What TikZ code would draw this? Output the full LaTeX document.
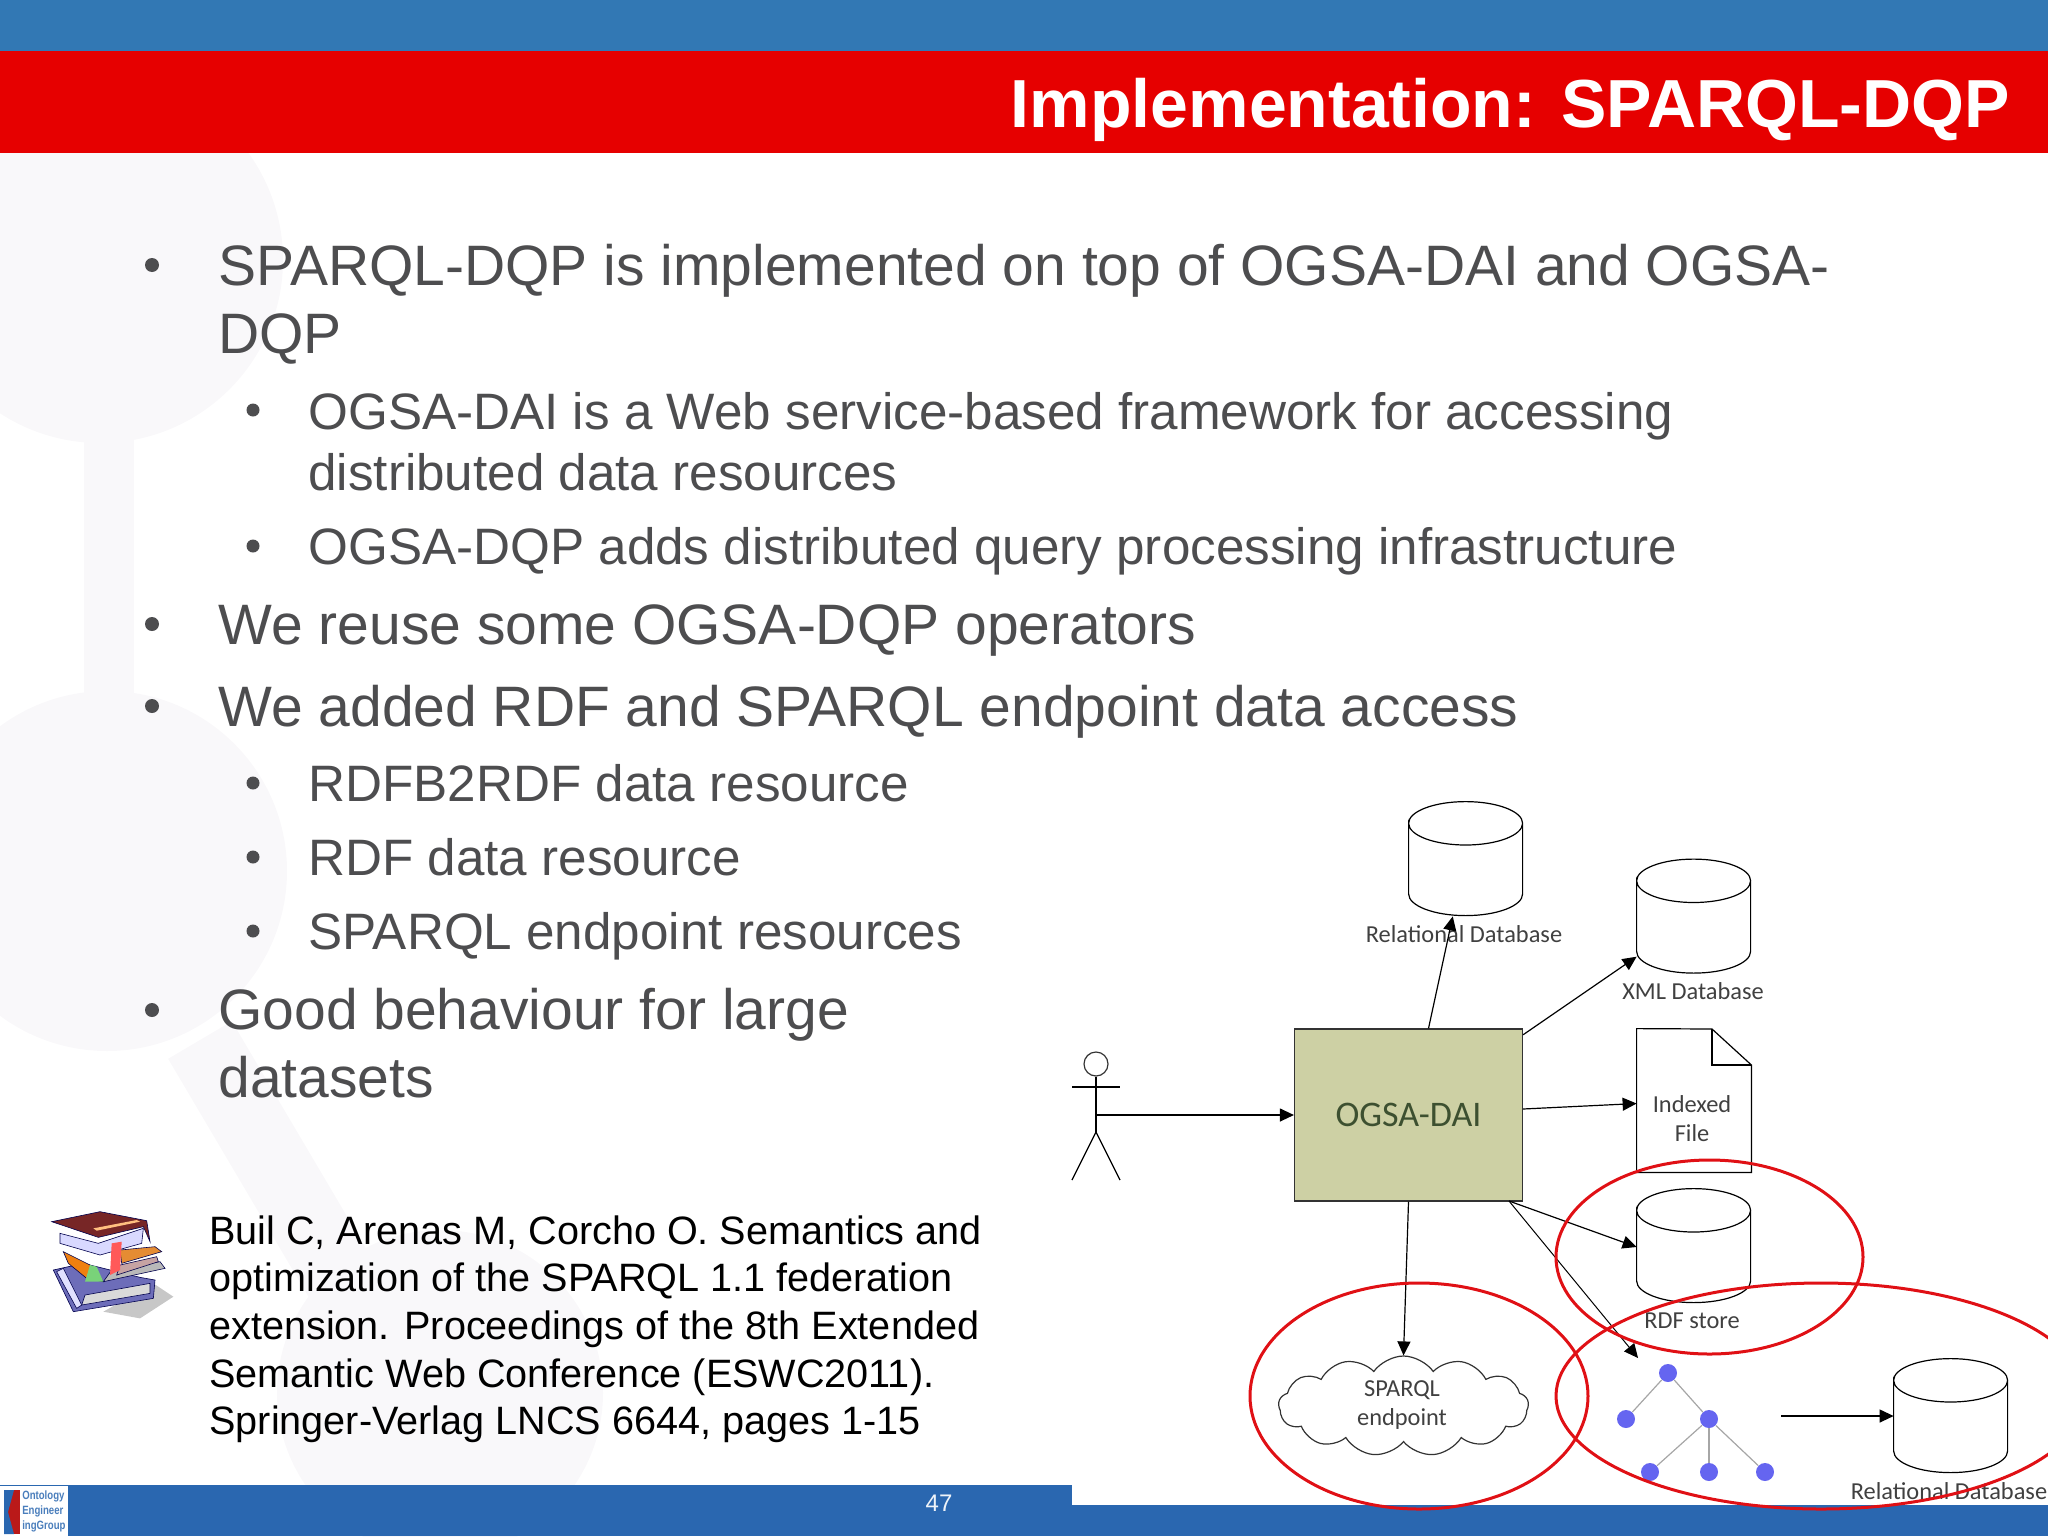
\documentclass[tikz,border=0pt]{standalone}
\usepackage{fontspec}
\setmainfont{Liberation Sans}
\newfontfamily\diagfont{Carlito}
\usetikzlibrary{arrows.meta,shapes.geometric,shapes.symbols}

\definecolor{topblue}{HTML}{3278B4}
\definecolor{titlered}{HTML}{E60000}
\definecolor{barblue}{HTML}{2A67B0}
\definecolor{bodygrey}{HTML}{4D4D4F}
\definecolor{markpale}{HTML}{F9F8FA}
\definecolor{boxolive}{HTML}{CDD0A4}
\definecolor{boxtext}{HTML}{3D5030}
\definecolor{ringred}{HTML}{E01015}
\definecolor{treeblue}{HTML}{6565F0}

\tikzset{
	lvlone/.style={anchor=base west, inner sep=0pt, text=bodygrey, font=\fontsize{28.5}{28.5}\selectfont},
	lvltwo/.style={anchor=base west, inner sep=0pt, text=bodygrey, font=\fontsize{25.6}{25.6}\selectfont},
	refline/.style={anchor=base west, inner sep=0pt, text=black, font=\fontsize{19.8}{19.8}\selectfont},
	bulletdot/.style={circle, fill=bodygrey, inner sep=0pt, minimum size=7pt},
	dbcyl/.style={inner sep=0pt, minimum width=57pt, minimum height=57pt},
	dbline/.style={draw=black, line width=0.6pt},
	dblabel/.style={inner sep=0pt, align=center, text=black!75, font=\diagfont\fontsize{12.2}{14.5}\selectfont},
	link/.style={draw=black, line width=0.6pt, -{Triangle[length=7pt,width=6.5pt]}},
	treedot/.style={circle, fill=treeblue, inner sep=0pt, minimum size=9pt},
	treeedge/.style={draw=black!35, line width=0.6pt},
	ringmark/.style={ellipse, draw=ringred, line width=1.5pt, inner sep=0pt},
	bookpart/.style={draw=black!70!blue, line width=0.3pt},
}

% database drum: name, position
\newcommand{\dbdrum}[2]{%
	\node[dbcyl] (#1) at (#2) {};
	\draw[dbline] (#1.north west) ++(0, 21.7) arc[start angle=180, end angle=-180, x radius=28.5pt, y radius=10.85pt] -- ++(0, 70.6) arc[start angle=180, end angle=360, x radius=28.5pt, y radius=10.85pt] -- ++(0, -70.6);
}

\begin{document}
\begin{tikzpicture}[x=0.5pt, y=-0.5pt]

	\useasboundingbox (0, 0) rectangle (2048, 1536);

	% pale watermark
	\fill[markpale] (100, 260) circle (183pt/2);
	\fill[markpale] (84, 440) rectangle (134, 705);
	\fill[markpale] (107, 871) circle (180pt/2);
	\fill[markpale] (440, 1393) circle (163pt/2);
	\draw[markpale, line width=37pt] (200, 1040) -- (377, 1340);

	% bars
	\fill[topblue] (0, 0) rectangle (2048, 51);
	\fill[titlered] (0, 51) rectangle (2048, 153);
	\fill[barblue] (0, 1485) rectangle (1072, 1536);
	\fill[barblue] (1072, 1505) rectangle (2048, 1536);

	\node[anchor=base east, inner sep=0pt, text=white, font=\bfseries\fontsize{34}{34}\selectfont] (title) at (2010, 127) {Implementation: SPARQL-DQP};

	\node[inner sep=0pt, text=white!92!barblue, font=\fontsize{12}{12}\selectfont] (pageno) at (939, 1503) {47};

	% bullets
	\foreach \y [count=\i] in {265, 624, 706, 1010}
		\node[bulletdot] (bulone\i) at (152, \y) {};
	\foreach \y [count=\i] in {410, 546, 783, 857, 931}
		\node[bulletdot, minimum size=6.5pt] (bultwo\i) at (253, \y) {};

	\node[lvlone] (lineA) at (218, 285) {SPARQL-DQP is implemented on top of OGSA-DAI and OGSA-};
	\node[lvlone] (lineB) at (218, 353) {DQP};
	\node[lvltwo] (lineC) at (308, 429) {OGSA-DAI is a Web service-based framework for accessing};
	\node[lvltwo] (lineD) at (308, 490) {distributed data resources};
	\node[lvltwo] (lineE) at (308, 564) {OGSA-DQP adds distributed query processing infrastructure};
	\node[lvlone] (lineF) at (218, 644) {We reuse some OGSA-DQP operators};
	\node[lvlone] (lineG) at (218, 726) {We added RDF and SPARQL endpoint data access};
	\node[lvltwo] (lineH) at (308, 801) {RDFB2RDF data resource};
	\node[lvltwo] (lineI) at (308, 875) {RDF data resource};
	\node[lvltwo] (lineJ) at (308, 949) {SPARQL endpoint resources};
	\node[lvlone] (lineK) at (218, 1029) {Good behaviour for large};
	\node[lvlone] (lineL) at (218, 1097) {datasets};

	\node[refline] (refA) at (209, 1244) {Buil C, Arenas M, Corcho O. Semantics and};
	\node[refline] (refB) at (209, 1291) {optimization of the SPARQL 1.1 federation};
	\node[refline] (refC) at (209, 1339) {extension. Proceedings of the 8th Extended};
	\node[refline] (refD) at (209, 1387) {Semantic Web Conference (ESWC2011).};
	\node[refline] (refE) at (209, 1434) {Springer-Verlag LNCS 6644, pages 1-15};

	% book stack
	\begin{scope}[shift={(40, 1200)}, x=0.1667pt, y=-0.1667pt]
		\fill[black!22] (340, 250) -- (400, 290) -- (300, 355) -- (190, 335) -- cycle;
		\fill[bookpart, fill=blue!35!gray!85] (40, 210) -- (100, 335) -- (340, 295) -- (345, 240) -- (300, 232) -- (130, 190) -- cycle;
		\fill[bookpart, fill=white!88!blue] (50, 215) -- (110, 325) -- (125, 315) -- (70, 205) -- cycle;
		\fill[bookpart, fill=black!15!white] (135, 285) -- (330, 250) -- (330, 280) -- (125, 315) -- cycle;
		\fill[bookpart, fill=gray!55!white] (190, 245) -- (375, 205) -- (360, 185) -- (215, 210) -- cycle;
		\fill[bookpart, fill=pink!55!gray] (240, 195) -- (350, 170) -- (355, 185) -- (230, 225) -- cycle;
		\fill[bookpart, fill=orange!75!brown] (70, 155) -- (150, 195) -- (190, 245) -- (140, 235) -- (85, 190) -- cycle;
		\fill[bookpart, fill=orange!55!brown!90] (240, 150) -- (345, 140) -- (365, 155) -- (245, 190) -- cycle;
		\fill[green!50!gray!70] (150, 195) -- (170, 200) -- (190, 245) -- (135, 245) -- cycle;
		\fill[bookpart, fill=white!85!blue] (60, 100) -- (175, 130) -- (310, 85) -- (305, 130) -- (180, 165) -- (60, 130) -- cycle;
		\fill[bookpart, fill=red!45!black!70!gray] (35, 65) -- (180, 35) -- (320, 62) -- (330, 125) -- (310, 80) -- (175, 112) -- cycle;
		\fill[orange!50!white] (160, 85) -- (290, 60) -- (300, 65) -- (170, 92) -- cycle;
		\fill[red!65!white] (215, 130) -- (245, 125) -- (240, 210) -- (210, 225) -- cycle;
	\end{scope}

	% logo
	\fill[white] (0, 1486) rectangle (68, 1536);
	\fill[red!70!black!90] (4, 1490) rectangle (20, 1534);
	\fill[barblue] (4, 1490) -- (14, 1490) -- (8, 1512) -- (14, 1534) -- (4, 1534) -- cycle;
	\node[anchor=west, inner sep=0pt, xscale=0.8, text=barblue!85, font=\bfseries\fontsize{6}{6}\selectfont] (logoA) at (22, 1496) {Ontology};
	\node[anchor=west, inner sep=0pt, xscale=0.8, text=barblue!85, font=\bfseries\fontsize{6}{6}\selectfont] (logoB) at (22, 1511) {Engineer};
	\node[anchor=west, inner sep=0pt, xscale=0.8, text=barblue!85, font=\bfseries\fontsize{6}{6}\selectfont] (logoC) at (22, 1526) {ingGroup};

	% diagram
	\node[draw=black!80, fill=boxolive, line width=0.6pt, inner sep=0pt, minimum width=114pt, minimum height=86pt, text=boxtext, font=\diagfont\fontsize{18}{18}\selectfont] (ogsa) at (1408.5, 1115) {OGSA-DAI};

	\dbdrum{relcyl}{1466, 859}
	\node[dblabel] (rellabel) at (1464, 934) {Relational Database};
	\dbdrum{xmlcyl}{1694, 916.5}
	\node[dblabel] (xmllabel) at (1693, 991) {XML Database};
	\dbdrum{rdfcyl}{1694, 1246}
	\node[dblabel] (rdflabel) at (1692, 1321) {RDF store};
	\dbdrum{backcyl}{1951, 1416}
	\node[dblabel] (backlabel) at (1949, 1491) {Relational Database};

	\node[inner sep=0pt, minimum width=57pt, minimum height=71.5pt] (idxfile) at (1694, 1100.5) {};
	\draw[dbline] (idxfile.north west) -- (1712, 1029) -- (idxfile.east |- 0, 1065) -- (idxfile.south east) -- (idxfile.south west) -- cycle;
	\draw[dbline] (1712, 1029) -- (1712, 1065) -- (idxfile.east |- 0, 1065);
	\node[dblabel] (idxlabel) at (1692, 1118.5) {Indexed\\File};

	\node[cloud, cloud puffs=13, cloud puff arc=110, aspect=2.4, draw=black!80, line width=0.6pt, inner sep=0pt, minimum width=125pt, minimum height=50pt] (endpoint) at (1403.5, 1406) {};
	\node[dblabel] (endlabel) at (1402, 1405.5) {SPARQL\\endpoint};

	% user
	\node[circle, draw=black!80, line width=0.6pt, inner sep=0pt, minimum size=12pt] (userhead) at (1096, 1064) {};
	\coordinate (userhub) at (1096, 1115);
	\coordinate (userhip) at (1096, 1132);
	\draw[dbline] (userhead) -- (userhip);
	\draw[dbline] (1072, 1087) -- (1120, 1087);
	\draw[dbline] (1072, 1180) -- (userhip) -- (1120, 1180);
	\draw[link] (userhub) -- (ogsa.west);

	% tree
	\node[treedot] (treetop) at (1668, 1373) {};
	\node[treedot] (treeleft) at (1626, 1419) {};
	\node[treedot] (treemid) at (1709, 1419) {};
	\node[treedot] (treeA) at (1650, 1472) {};
	\node[treedot] (treeB) at (1709, 1472) {};
	\node[treedot] (treeC) at (1765, 1472) {};
	\draw[treeedge] (treetop) -- (treeleft);
	\draw[treeedge] (treetop) -- (treemid);
	\draw[treeedge] (treemid) -- (treeA);
	\draw[treeedge] (treemid) -- (treeB);
	\draw[treeedge] (treemid) -- (treeC);
	\coordinate (treetip) at (1638, 1358);
	\coordinate (treeout) at (1781, 1416);

	% arrows
	\draw[link] (ogsa.77) -- (relcyl.257);
	\draw[link] (ogsa.35) -- (xmlcyl.215);
	\draw[link] (ogsa.3) -- (idxfile.183);
	\draw[link] (ogsa.south) -- (endpoint.north);
	\coordinate (ogsafoot) at (1509, 1201);
	\draw[link] (ogsafoot) -- (rdfcyl.181);
	\draw[link, line width=0.5pt] (ogsafoot) -- (treetip);
	\draw[link] (treeout) -- (backcyl.west);

	% rings
	\node[ringmark, minimum width=153.5pt, minimum height=97pt] (rdfring) at (1709.5, 1257) {};
	\node[ringmark, minimum width=169pt, minimum height=113pt] (endring) at (1419, 1396) {};
	\node[ringmark, minimum width=265pt, minimum height=113pt] (backring) at (1821, 1396) {};

\end{tikzpicture}
\end{document}
